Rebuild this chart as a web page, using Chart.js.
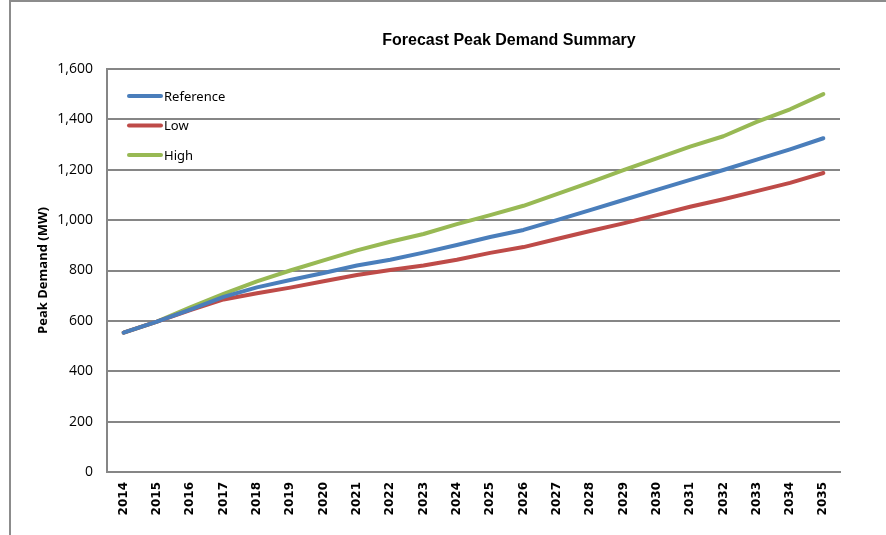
<!DOCTYPE html>
<html>
<head>
<meta charset="utf-8">
<script src="https://cdn.jsdelivr.net/npm/chart.js@4.4.1/dist/chart.umd.min.js"></script>
<style>
  html, body { margin: 0; padding: 0; background: #fff; }
  #wrap { width: 886px; height: 535px; }
</style>
</head>
<body>
<div id="wrap"><canvas id="peakChart" width="886" height="535"></canvas></div>
<script>
// data (MW)
const years = ['2014', '2015', '2016', '2017', '2018', '2019', '2020', '2021', '2022', '2023', '2024',
               '2025', '2026', '2027', '2028', '2029', '2030', '2031', '2032', '2033', '2034', '2035'];
const referenceMW = [553, 597, 645, 695, 733, 762, 790, 820, 843, 871, 901,
                     933, 961, 1000, 1040, 1080, 1120, 1160, 1199, 1240, 1281, 1325];
const lowMW = [553, 597, 643, 685, 710, 732, 757, 782, 802, 820, 843,
               870, 893, 925, 957, 987, 1020, 1053, 1083, 1115, 1148, 1187];
const highMW = [553, 597, 654, 707, 757, 800, 840, 880, 914, 945, 984,
                1020, 1057, 1103, 1150, 1199, 1245, 1292, 1333, 1390, 1440, 1500];
const yMin = 0;
const yMax = 1600;
const yStep = 200;

const GRID = '#868686';

// frame, title and the in-plot legend
const decorations = {
    id: 'decorations',
    beforeDraw(chart) {
        const ctx = chart.ctx;
        ctx.save();
        ctx.strokeStyle = '#8c8c8c';
        ctx.lineWidth = 2;
        ctx.strokeRect(10, 1, 1000, 1000);
        ctx.restore();
    },
    afterDraw(chart) {
        const ctx = chart.ctx;
        ctx.save();
        ctx.fillStyle = '#000';
        ctx.font = 'bold 16px "Liberation Sans", Arial, sans-serif';
        ctx.textAlign = 'center';
        ctx.textBaseline = 'middle';
        ctx.fillText('Forecast Peak Demand Summary', 509, 41);

        ctx.textAlign = 'left';
        ctx.font = '13px "Noto Sans", Arial, sans-serif';
        chart.data.datasets.forEach((ds, i) => {
            const y = 96 + i * 29.5;
            ctx.strokeStyle = ds.borderColor;
            ctx.lineWidth = 4;
            ctx.lineCap = 'round';
            ctx.beginPath();
            ctx.moveTo(129, y);
            ctx.lineTo(161, y);
            ctx.stroke();
            ctx.fillText(ds.label, 164, y + 1);
        });
        ctx.restore();
    }
};

const lineStyle = {
    borderWidth: 4,
    pointRadius: 0,
    pointHoverRadius: 0,
    tension: 0,
    borderCapStyle: 'round',
    borderJoinStyle: 'round',
    fill: false
};

new Chart(document.getElementById('peakChart').getContext('2d'), {
    type: 'line',
    data: {
        labels: years,
        datasets: [
            Object.assign({ label: 'Reference', data: referenceMW, borderColor: '#4a7ebb' }, lineStyle),
            Object.assign({ label: 'Low', data: lowMW, borderColor: '#be4b48' }, lineStyle),
            Object.assign({ label: 'High', data: highMW, borderColor: '#98b954' }, lineStyle)
        ]
    },
    options: {
        responsive: false,
        animation: false,
        devicePixelRatio: 1,
        layout: {
            padding: { left: 0, right: 46, top: 69, bottom: 0 }
        },
        plugins: {
            legend: { display: false },
            title: { display: false },
            tooltip: { enabled: false }
        },
        scales: {
            x: {
                offset: true,
                grid: { display: false, drawTicks: false, offset: true },
                border: { color: GRID, width: 2 },
                ticks: {
                    autoSkip: false,
                    minRotation: 90,
                    maxRotation: 90,
                    padding: 10,
                    color: '#000',
                    font: { family: '"DejaVu Sans", Verdana, sans-serif', weight: 'bold', size: 12 }
                },
                afterFit: s => { s.height = 63; }
            },
            y: {
                min: yMin,
                max: yMax,
                grid: { color: GRID, lineWidth: 2, drawTicks: false },
                border: { color: GRID, width: 2 },
                ticks: {
                    stepSize: yStep,
                    padding: 14,
                    color: '#000',
                    font: { family: '"Open Sans", Arial, sans-serif', size: 14 }
                },
                title: {
                    display: true,
                    text: 'Peak Demand (MW)',
                    color: '#000',
                    font: { family: '"Open Sans", Arial, sans-serif', weight: 'bold', size: 13 },
                    padding: { top: 35, bottom: 0 }
                },
                afterFit: s => { s.width = 107; }
            }
        }
    },
    plugins: [decorations]
});
</script>
</body>
</html>
